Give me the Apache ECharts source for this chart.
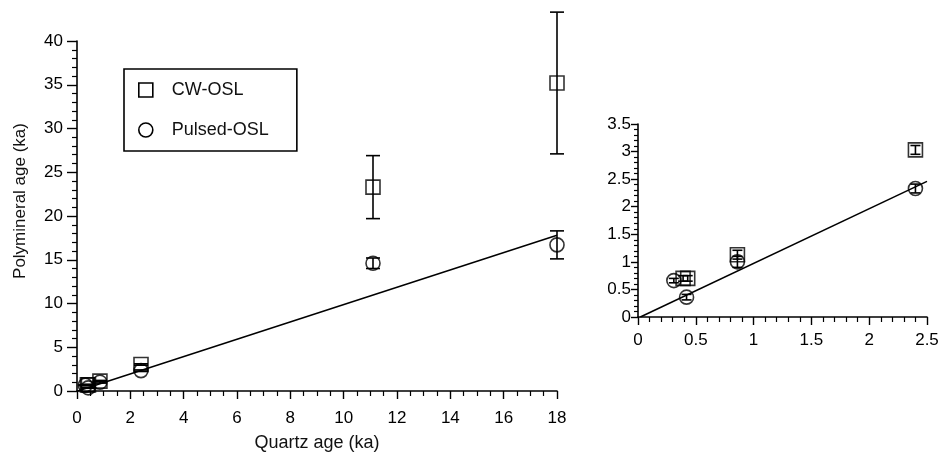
<!DOCTYPE html>
<html>
<head>
<meta charset="utf-8">
<script src="https://cdn.jsdelivr.net/npm/echarts@6/dist/echarts.min.js"></script>
<style>html,body{margin:0;padding:0;background:#fff;}#c{width:939px;height:452px;}</style>
</head>
<body>
<div id="c"></div>
<script>
// ---- data ----
const cwX      = [0.39, 0.43, 0.86, 2.40, 11.1, 18.0];
const cwY      = [0.70, 0.70, 1.13, 3.03, 23.3, 35.2];
const cwErr    = [0.05, 0.05, 0.08, 0.08, 3.6, 8.1];
const pulsedX   = [0.31, 0.42, 0.86, 2.40, 11.1, 18.0];
const pulsedY   = [0.66, 0.36, 1.00, 2.33, 14.6, 16.7];
const pulsedErr = [0.04, 0.05, 0.10, 0.08, 0.6, 1.6];
const fitX      = [0.0, 18.0];
const fitY      = [-0.02, 17.8];
const insetFitX = [0.02, 2.5];
const insetFitY = [0.0, 2.46];
const mainYTicks = [0, 5, 10, 15, 20, 25, 30, 35, 40];
const mainXTicks = [0, 2, 4, 6, 8, 10, 12, 14, 16, 18];
const insetYTicks = [0, 0.5, 1, 1.5, 2, 2.5, 3, 3.5];
const insetXTicks = [0, 0.5, 1, 1.5, 2, 2.5];

const FONT = 'Liberation Sans, Arial, sans-serif';
const BLACK = '#000';

const pts = (xs, ys) => xs.map((x, i) => [x, ys[i]]);
const errs = (xs, ys, es) => xs.map((x, i) => [x, ys[i] - es[i], ys[i] + es[i]]);

function errRender(capHalf) {
  return function (params, api) {
    const x = api.value(0), lo = api.value(1), hi = api.value(2);
    const pLo = api.coord([x, lo]), pHi = api.coord([x, hi]);
    const st = { stroke: BLACK, lineWidth: 1.6 };
    return {
      type: 'group',
      children: [
        { type: 'line', shape: { x1: pLo[0], y1: pLo[1], x2: pHi[0], y2: pHi[1] }, style: st },
        { type: 'line', shape: { x1: pLo[0] - capHalf, y1: pLo[1], x2: pLo[0] + capHalf, y2: pLo[1] }, style: st },
        { type: 'line', shape: { x1: pHi[0] - capHalf, y1: pHi[1], x2: pHi[0] + capHalf, y2: pHi[1] }, style: st }
      ]
    };
  };
}

function axisBase(ticks, interval, minorSplit, tickLen, minorLen, labelMargin) {
  return {
    type: 'value',
    min: ticks[0],
    max: ticks[ticks.length - 1],
    interval: interval,
    axisLine: { show: true, onZero: false, lineStyle: { color: BLACK, width: 1.6 } },
    axisTick: { show: true, inside: false, length: tickLen, lineStyle: { color: BLACK, width: 1.4 } },
    minorTick: { show: true, splitNumber: minorSplit, length: minorLen, lineStyle: { color: BLACK, width: 1.2 } },
    splitLine: { show: false },
    axisLabel: { color: '#000', fontFamily: FONT, fontSize: 17, margin: labelMargin,
      formatter: v => String(v) },
  };
}

const symStyle = { color: '#fff', borderColor: BLACK, borderWidth: 1.6, opacity: 1 };

const option = {
  animation: false,
  backgroundColor: '#fff',
  grid: [
    { left: 77, right: 382, top: 41, bottom: 61, containLabel: false, outerBoundsMode: 'none' },
    { left: 638, right: 12, top: 124, bottom: 135, containLabel: false, outerBoundsMode: 'none' }
  ],
  xAxis: [
    Object.assign(axisBase(mainXTicks, 2, 4, 8, 5, 19), {
      gridIndex: 0,
      name: 'Quartz age (ka)', nameLocation: 'middle', nameGap: 43,
      nameTextStyle: { color: '#111', fontFamily: FONT, fontSize: 18 }
    }),
    Object.assign(axisBase(insetXTicks, 0.5, 5, 8, 5, 15), { gridIndex: 1 })
  ],
  yAxis: [
    Object.assign(axisBase(mainYTicks, 5, 5, 10, 5, 14), {
      gridIndex: 0,
      name: 'Polymineral age (ka)', nameLocation: 'middle', nameGap: 48, nameRotate: 90,
      nameTextStyle: { color: '#111', fontFamily: FONT, fontSize: 17, padding: [0, 0, 0, 30] }
    }),
    Object.assign(axisBase(insetYTicks, 0.5, 5, 7, 4, 7), { gridIndex: 1 })
  ],
  legend: {
    orient: 'vertical',
    left: 124, top: 69,
    padding: [12, 28, 12, 14],
    itemGap: 22,
    itemWidth: 14, itemHeight: 14,
    borderColor: BLACK, borderWidth: 1.6, borderRadius: 0,
    backgroundColor: '#fff',
    textStyle: { color: '#111', fontFamily: FONT, fontSize: 18, padding: [0, 0, 0, 14] },
    data: [
      { name: 'CW-OSL', icon: 'rect', itemStyle: symStyle },
      { name: 'Pulsed-OSL', icon: 'circle', itemStyle: symStyle }
    ]
  },
  series: [
    // main fit line
    { type: 'line', xAxisIndex: 0, yAxisIndex: 0, data: pts(fitX, fitY), symbol: 'none',
      lineStyle: { color: BLACK, width: 1.5 }, silent: true, z: 1 },
    // main error bars
    { type: 'custom', xAxisIndex: 0, yAxisIndex: 0, data: errs(cwX, cwY, cwErr),
      renderItem: errRender(7), z: 2, silent: true },
    { type: 'custom', xAxisIndex: 0, yAxisIndex: 0, data: errs(pulsedX, pulsedY, pulsedErr),
      renderItem: errRender(7), z: 2, silent: true },
    // main symbols
    { name: 'CW-OSL', type: 'scatter', xAxisIndex: 0, yAxisIndex: 0, data: pts(cwX, cwY),
      symbol: 'rect', symbolSize: 14, itemStyle: { color: 'rgba(0,0,0,0)', borderColor: BLACK, borderWidth: 1.6 }, z: 3 },
    { name: 'Pulsed-OSL', type: 'scatter', xAxisIndex: 0, yAxisIndex: 0, data: pts(pulsedX, pulsedY),
      symbol: 'circle', symbolSize: 14, itemStyle: { color: 'rgba(0,0,0,0)', borderColor: BLACK, borderWidth: 1.6 }, z: 3 },
    // inset fit line
    { type: 'line', xAxisIndex: 1, yAxisIndex: 1, data: pts(insetFitX, insetFitY), symbol: 'none',
      lineStyle: { color: BLACK, width: 1.5 }, silent: true, z: 1 },
    // inset error bars
    { type: 'custom', xAxisIndex: 1, yAxisIndex: 1, data: errs(cwX, cwY, cwErr),
      renderItem: errRender(5), z: 2, silent: true },
    { type: 'custom', xAxisIndex: 1, yAxisIndex: 1, data: errs(pulsedX, pulsedY, pulsedErr),
      renderItem: errRender(5), z: 2, silent: true },
    // inset symbols
    { name: 'CW-OSL', type: 'scatter', xAxisIndex: 1, yAxisIndex: 1, data: pts(cwX, cwY),
      symbol: 'rect', symbolSize: 14, itemStyle: { color: 'rgba(0,0,0,0)', borderColor: BLACK, borderWidth: 1.6 }, z: 3 },
    { name: 'Pulsed-OSL', type: 'scatter', xAxisIndex: 1, yAxisIndex: 1, data: pts(pulsedX, pulsedY),
      symbol: 'circle', symbolSize: 14, itemStyle: { color: 'rgba(0,0,0,0)', borderColor: BLACK, borderWidth: 1.6 }, z: 3 }
  ]
};

const chart = echarts.init(document.getElementById('c'), null, { renderer: 'canvas' });
chart.setOption(option);
</script>
</body>
</html>
